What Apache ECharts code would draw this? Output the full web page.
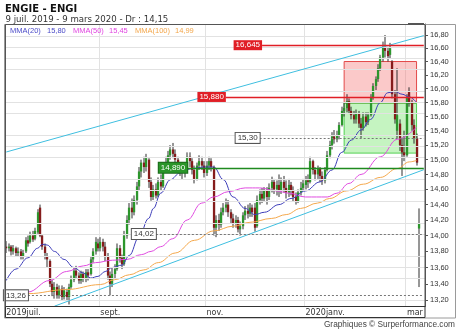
<!DOCTYPE html>
<html><head><meta charset="utf-8">
<script src="https://cdn.jsdelivr.net/npm/echarts@6/dist/echarts.min.js"></script>
<style>html,body{margin:0;padding:0;background:#fff}#c{width:460px;height:331px}</style>
</head><body><div id="c"></div>
<script>
// ---------- data ----------
const holidays = ['2019-12-25','2019-12-26','2020-01-01'];
const xTickMonths = ['2019-07','2019-09','2019-11','2020-01','2020-03'];
const xTickLabels = ['2019juil.','sept.','nov.','2020janv.','mar'];
const yTicks = [13.2,13.4,13.6,13.8,14.0,14.2,14.4,14.6,14.8,15.0,15.2,15.4,15.6,15.8,16.0,16.2,16.4,16.6,16.8];
const yMin = 13.126, yMax = 16.969;

const opens = [13.86,13.84,13.86,13.80,13.84,13.78,13.80,13.74,13.80,13.94,
13.92,14.00,13.96,14.04,14.36,14.00,13.86,13.74,13.68,13.40,
13.30,13.36,13.26,13.34,13.24,13.30,13.24,13.36,13.45,13.56,
13.50,13.44,13.52,13.46,13.54,13.52,13.70,13.80,13.90,13.84,
13.92,13.86,13.74,13.50,13.40,13.52,13.58,13.84,13.72,13.64,
14.00,14.20,14.36,14.30,14.46,14.64,14.84,14.96,14.90,15.00,
14.70,14.50,14.60,14.52,14.70,14.64,14.86,14.96,15.06,15.14,
15.08,15.00,14.92,14.86,14.82,14.90,15.04,14.98,14.86,14.74,
14.92,14.98,14.92,14.82,14.92,14.98,14.90,14.10,14.20,14.14,
14.30,14.36,14.40,14.30,14.22,14.16,14.20,14.08,14.12,14.26,
14.32,14.28,14.36,14.36,14.12,14.46,14.54,14.48,14.58,14.50,
14.62,14.70,14.60,14.66,14.58,14.70,14.62,14.56,14.66,14.58,
14.50,14.44,14.56,14.62,14.66,14.72,14.70,14.98,14.86,14.80,
14.88,14.78,14.72,14.86,15.06,15.20,15.32,15.28,15.34,15.48,
15.68,15.72,15.82,15.68,15.62,15.56,15.64,15.50,15.44,15.60,
15.52,15.62,15.88,16.04,16.14,16.30,16.46,16.62,16.56,16.50,
16.40,15.92,15.40,15.50,15.20,15.10,15.06,15.96,15.80,15.48,
15.30,14.09];
const closes = [13.84,13.86,13.80,13.84,13.78,13.80,13.74,13.78,13.94,13.90,
14.00,13.95,14.06,14.30,14.00,13.86,13.78,13.70,13.40,13.30,
13.36,13.26,13.34,13.24,13.32,13.24,13.36,13.45,13.56,13.50,
13.44,13.52,13.46,13.54,13.50,13.70,13.80,13.92,13.84,13.92,
13.86,13.74,13.50,13.40,13.52,13.58,13.84,13.72,13.64,14.00,
14.20,14.36,14.30,14.46,14.64,14.84,14.96,14.90,15.02,14.70,
14.50,14.60,14.52,14.70,14.64,14.86,14.96,15.06,15.14,15.08,
15.00,14.92,14.86,14.82,14.90,15.04,14.98,14.86,14.74,14.92,
14.98,14.92,14.82,14.92,14.98,14.90,14.10,14.20,14.14,14.30,
14.36,14.40,14.30,14.22,14.16,14.20,14.08,14.12,14.26,14.32,
14.28,14.36,14.30,14.10,14.46,14.54,14.48,14.58,14.50,14.62,
14.70,14.60,14.66,14.58,14.70,14.62,14.56,14.66,14.58,14.50,
14.44,14.56,14.62,14.68,14.72,14.70,14.98,14.86,14.80,14.88,
14.78,14.72,14.86,15.06,15.20,15.32,15.28,15.34,15.48,15.68,
15.72,15.82,15.68,15.62,15.56,15.64,15.50,15.44,15.60,15.52,
15.62,15.88,16.04,16.14,16.30,16.46,16.62,16.56,16.48,16.60,
15.92,15.56,15.62,15.20,15.10,15.06,15.88,15.80,15.48,15.30,
14.96,14.15];
const lows = [13.78,13.80,13.75,13.76,13.73,13.74,13.70,13.70,13.78,13.86,
13.90,13.92,13.94,14.02,13.98,13.82,13.70,13.60,13.36,13.25,
13.22,13.22,13.22,13.20,13.21,13.20,13.15,13.34,13.42,13.46,
13.40,13.40,13.42,13.42,13.44,13.50,13.66,13.76,13.80,13.80,
13.80,13.68,13.45,13.26,13.36,13.46,13.56,13.66,13.58,13.62,
13.96,14.14,14.22,14.26,14.40,14.58,14.76,14.82,14.84,14.62,
14.45,14.46,14.48,14.50,14.58,14.62,14.82,14.90,15.00,15.02,
14.94,14.86,14.78,14.74,14.76,14.86,14.90,14.80,14.68,14.72,
14.86,14.86,14.76,14.78,14.86,14.84,14.00,13.98,14.06,14.10,
14.26,14.30,14.24,14.16,14.10,14.10,14.04,14.00,14.08,14.20,
14.22,14.24,14.24,14.05,14.10,14.40,14.42,14.44,14.40,14.46,
14.56,14.54,14.52,14.50,14.54,14.56,14.48,14.50,14.52,14.44,
14.40,14.42,14.52,14.58,14.60,14.62,14.68,14.80,14.72,14.74,
14.70,14.66,14.68,14.84,15.02,15.14,15.22,15.24,15.28,15.46,
15.60,15.66,15.64,15.56,15.50,15.50,15.44,15.30,15.40,15.46,
15.48,15.60,15.84,15.98,16.10,16.26,16.40,16.46,16.40,16.44,
15.86,15.50,15.30,15.12,14.78,14.98,15.04,15.74,15.40,15.22,
14.92,13.36];
const highs = [13.93,13.90,13.88,13.88,13.86,13.85,13.83,13.82,13.98,14.00,
14.05,14.06,14.10,14.34,14.40,14.02,13.90,13.78,13.70,13.45,
13.42,13.40,13.38,13.38,13.36,13.34,13.40,13.50,13.60,13.62,
13.54,13.56,13.55,13.58,13.58,13.74,13.84,13.98,13.96,13.98,
13.96,13.92,13.78,13.55,13.60,13.64,13.90,13.88,13.76,14.06,
14.26,14.42,14.48,14.52,14.70,14.90,15.00,15.04,15.08,15.02,
14.76,14.66,14.68,14.76,14.80,14.90,15.04,15.12,15.20,15.23,
15.14,15.04,14.96,14.92,14.96,15.10,15.10,15.02,14.92,14.96,
15.06,15.04,14.98,14.98,15.04,15.02,14.92,14.26,14.28,14.36,
14.42,14.48,14.46,14.34,14.28,14.26,14.24,14.18,14.30,14.38,
14.40,14.42,14.40,14.42,14.52,14.60,14.62,14.63,14.63,14.68,
14.77,14.74,14.72,14.80,14.76,14.78,14.72,14.74,14.70,14.64,
14.56,14.60,14.70,14.74,14.78,14.80,15.04,15.00,14.90,14.92,
14.90,14.84,14.90,15.12,15.26,15.38,15.41,15.40,15.52,15.74,
15.80,15.92,15.86,15.74,15.68,15.70,15.68,15.58,15.66,15.66,
15.66,15.92,16.08,16.18,16.36,16.50,16.70,16.80,16.62,16.68,
16.42,15.98,16.30,15.56,15.30,15.40,15.92,16.02,15.84,15.56,
15.36,14.35];

// moving averages: [day index, value]
const ma20Points = [[0,13.44],[4,13.58],[9,13.72],[13,13.84],[15,13.89],[17,13.88],[20,13.80],[24,13.70],[28,13.60],[32,13.53],[35,13.47],[38,13.49],[41,13.55],[44,13.60],[48,13.63],[51,13.75],[55,13.98],[59,14.22],[61,14.35],[64,14.55],[68,14.73],[72,14.82],[77,14.88],[82,14.90],[86,14.90],[90,14.73],[94,14.50],[99,14.35],[103,14.27],[107,14.30],[113,14.40],[118,14.48],[124,14.58],[130,14.70],[135,14.86],[139,15.10],[143,15.27],[147,15.41],[151,15.56],[155,15.80],[158,15.94],[161,15.96],[164,15.92],[167,15.88],[170,15.80]];
const ma50Points = [[0,13.22],[9,13.30],[18,13.44],[25,13.55],[32,13.62],[37,13.66],[44,13.69],[50,13.70],[56,13.76],[60,13.80],[64,13.86],[69,13.96],[75,14.20],[81,14.42],[86,14.50],[92,14.57],[99,14.62],[105,14.62],[112,14.58],[117,14.55],[124,14.50],[133,14.50],[137,14.55],[142,14.68],[147,14.80],[155,15.04],[162,15.28],[170,15.45]];
const ma100Points = [[0,13.25],[9,13.28],[25,13.33],[39,13.39],[45,13.45],[51,13.51],[57,13.57],[63,13.66],[70,13.78],[78,13.94],[86,14.06],[94,14.12],[101,14.17],[110,14.22],[116,14.27],[122,14.35],[129,14.42],[134,14.48],[141,14.58],[148,14.67],[155,14.76],[162,14.88],[167,14.97],[170,14.99]];
const maNames = ['MMA(20)','MMA(50)','MMA(100)'];
const maLast = ['15,80','15,45','14,99'];

// annotations: [start day index, price, label]
const resistLines = [[106,16.645,'16,645'],[91,15.880,'15,880']];
const supportLines = [[75,14.890,'14,890']];
const dottedLines = [[105,15.30,'15,30'],[62,14.02,'14,02'],[9,13.26,'13,26']];
const trendUpper = [[0,15.105],[173,16.791]];
const trendLower = [[20,13.130],[173,14.864]];
const boxRed = [[140,16.40],[170,15.79]];
const boxGreen = [[140,15.79],[170,15.09]];

// ---------- build ----------
const L = Math.log;
function buildDays(){
  const out=[]; let t=Date.UTC(2019,6,9); const end=Date.UTC(2020,2,9);
  while(t<=end){ const d=new Date(t); const wd=d.getUTCDay(); const s=d.toISOString().slice(0,10);
    if(wd!==0 && wd!==6 && holidays.indexOf(s)<0) out.push(s);
    t+=86400000; }
  return out;
}
const days = buildDays();
const categories = days.concat(['2020-03-10','2020-03-11']);
const labelAt = {};
for (let i=0;i<days.length;i++){
  const m = days[i].slice(0,7);
  if (i===0 || days[i-1].slice(0,7)!==m){
    const k = xTickMonths.indexOf(m);
    if (k>=0) labelAt[i] = xTickLabels[k];
  }
}
const candleData = days.map((d,i)=>[i, L(opens[i]), L(closes[i]), L(lows[i]), L(highs[i])]);
const toLn = pts => pts.map(p=>[p[0], L(p[1])]);
const fmt = v => v.toFixed(2).replace('.',',');

function renderCandle(params, api){
  const i=api.value(0), o=api.value(1), c=api.value(2), lo=api.value(3), hi=api.value(4);
  const pO=api.coord([i,o]), pC=api.coord([i,c]), pL=api.coord([i,lo]), pH=api.coord([i,hi]);
  const x=Math.round(pO[0]-1);
  const top=Math.min(pO[1],pC[1]), bot=Math.max(pO[1],pC[1]);
  const up=c>=o;
  return {type:'group', children:[
    {type:'line', shape:{x1:x+1,y1:pH[1],x2:x+1,y2:pL[1]}, style:{stroke:'#2e2e2e', lineWidth:1}},
    {type:'rect', shape:{x:x-0.1, y:top, width:2.3, height:Math.max(bot-top,1.2)}, style:{fill: up?'#2c962c':'#851c1c', stroke:null}}
  ]};
}

const hLine = (a, color, width, type, lab) => [
  {coord:[a[0], L(a[1])], lineStyle:{color:color, width:width, type:type},
   label:{show:true, position:'start', distance:0, formatter:a[2], fontSize:8, fontFamily:'Liberation Sans', lineHeight:9,
          color: lab.color, backgroundColor: lab.bg, borderColor: lab.border, borderWidth: lab.border?1:0, padding:[1,2,0,2]}},
  {coord:[173, L(a[1])]}
];

const markLineData = []
  .concat([[{coord:[trendUpper[0][0],L(trendUpper[0][1])], lineStyle:{color:'#3fbfe0',width:1,type:'solid'}},{coord:[trendUpper[1][0],L(trendUpper[1][1])]}]])
  .concat([[{coord:[trendLower[0][0],L(trendLower[0][1])], lineStyle:{color:'#3fbfe0',width:1,type:'solid'}},{coord:[trendLower[1][0],L(trendLower[1][1])]}]]);

const annotData = []
  .concat(resistLines.map(a=>hLine(a,'#e01f26',1.3,'solid',{color:'#fff',bg:'#e01f26'})))
  .concat(supportLines.map(a=>hLine(a,'#1f8a1f',1.3,'solid',{color:'#fff',bg:'#2a952a',border:'#1a6a1a'})))
  .concat(dottedLines.map(a=>hLine(a,'#777',1,[2,2],{color:'#333',bg:'#fff',border:'#555'})));

const chart = echarts.init(document.getElementById('c'));
chart.setOption({
  animation:false,
  grid:{left:5,right:35,top:24,bottom:24.5},
  xAxis:{type:'category', data:categories, boundaryGap:true,
    axisLine:{show:false}, axisTick:{show:false},
    axisLabel:{interval:(i)=>labelAt.hasOwnProperty(i), formatter:(v,i)=>labelAt[i]||'', align:'left',
      margin:2.5, fontSize:8, fontFamily:'DejaVu Sans', color:'#333'},
    splitLine:{show:true, interval:(i)=>i>0 && labelAt.hasOwnProperty(i), lineStyle:{color:'#e2e2e2',width:1}}},
  yAxis:{type:'value', position:'right', min:L(yMin), max:L(yMax), scale:true,
    axisLine:{show:true, lineStyle:{color:'#555'}},
    axisTick:{show:true, length:3, customValues:yTicks.map(L), lineStyle:{color:'#555'}},
    axisLabel:{customValues:yTicks.map(L), formatter:v=>fmt(Math.exp(v)), fontSize:7.5, fontFamily:'Liberation Sans', color:'#333', margin:5},
    splitLine:{show:false}},
  series:[
    {type:'line', name:'grid', data:[], silent:true, z:1,
      markLine:{silent:true, symbol:['none','none'], label:{show:false},
        lineStyle:{color:'#e2e2e2', width:1, type:'solid'},
        data: yTicks.map(t=>({yAxis:L(t)}))},
      markArea:{silent:true, data:[
        [{coord:[boxRed[0][0],L(boxRed[0][1])], itemStyle:{color:'rgba(246,120,120,0.40)', borderColor:'#e34a4a', borderWidth:1}},{coord:[boxRed[1][0],L(boxRed[1][1])]}],
        [{coord:[boxGreen[0][0],L(boxGreen[0][1])], itemStyle:{color:'rgba(110,228,100,0.40)', borderColor:'#52d052', borderWidth:1}},{coord:[boxGreen[1][0],L(boxGreen[1][1])]}]
      ]}},
    {type:'line', name:'trend', data:[], silent:true, z:2,
      markLine:{silent:true, symbol:['none','none'], label:{show:false}, data:markLineData}},
    {type:'custom', name:'ENGI', data:candleData, renderItem:renderCandle, encode:{x:0,y:[1,2,3,4]}, z:3},
    {type:'line', name:maNames[2], data:toLn(ma100Points), smooth:0.4, smoothMonotone:'x', showSymbol:false, lineStyle:{color:'#f4a84c',width:1}, z:4},
    {type:'line', name:maNames[1], data:toLn(ma50Points), smooth:0.4, smoothMonotone:'x', showSymbol:false, lineStyle:{color:'#e04ce0',width:1}, z:4},
    {type:'line', name:maNames[0], data:toLn(ma20Points), smooth:0.4, smoothMonotone:'x', showSymbol:false, lineStyle:{color:'#3c3cb8',width:1}, z:4},
    {type:'line', name:'annot', data:[], silent:true, z:5,
      markLine:{silent:true, symbol:['none','none'], data:annotData}}
  ],
  graphic:[
    {type:'rect', z:100, shape:{x:4.5,y:24.5,width:451,height:293.5}, style:{fill:null, stroke:'#9a9a9a', lineWidth:1}},
    {type:'rect', z:100, shape:{x:5.5,y:24.5,width:419.5,height:282}, style:{fill:null, stroke:'#555', lineWidth:1}},
    {type:'rect', z:100, shape:{x:5.5,y:306.5,width:419.5,height:11}, style:{fill:null, stroke:'#333', lineWidth:1}},
    {type:'rect', z:100, shape:{x:408,y:23,width:16,height:2}, style:{fill:'#555'}},
    {type:'text', z:100, x:5, y:9, style:{text:'ENGIE - ENGI', font:'bold 10px "DejaVu Sans"', fill:'#111', textAlign:'left', textVerticalAlign:'middle', align:'left', verticalAlign:'middle'}},
    {type:'text', z:100, x:5.5, y:19.8, style:{text:'9 juil. 2019 - 9 mars 2020 - Dr : 14,15', font:'8.6px "DejaVu Sans"', fill:'#333', textAlign:'left', textVerticalAlign:'middle', align:'left', verticalAlign:'middle'}},
    {type:'text', z:100, x:10, y:30.7, style:{text:maNames[0], font:'7.5px "Liberation Sans"', fill:'#4a4ac8', textVerticalAlign:'middle', verticalAlign:'middle'}},
    {type:'text', z:100, x:47, y:30.7, style:{text:maLast[0], font:'7.5px "Liberation Sans"', fill:'#4a4ac8', textVerticalAlign:'middle', verticalAlign:'middle'}},
    {type:'text', z:100, x:73, y:30.7, style:{text:maNames[1], font:'7.5px "Liberation Sans"', fill:'#e044e0', textVerticalAlign:'middle', verticalAlign:'middle'}},
    {type:'text', z:100, x:109, y:30.7, style:{text:maLast[1], font:'7.5px "Liberation Sans"', fill:'#e044e0', textVerticalAlign:'middle', verticalAlign:'middle'}},
    {type:'text', z:100, x:135, y:30.7, style:{text:maNames[2], font:'7.5px "Liberation Sans"', fill:'#f3a64a', textVerticalAlign:'middle', verticalAlign:'middle'}},
    {type:'text', z:100, x:175, y:30.7, style:{text:maLast[2], font:'7.5px "Liberation Sans"', fill:'#f3a64a', textVerticalAlign:'middle', verticalAlign:'middle'}},
    {type:'text', z:100, x:455, y:324.5, style:{text:'Graphiques © Surperformance.com', font:'8.3px "Liberation Sans", Arial', fill:'#444', textAlign:'right', align:'right', textVerticalAlign:'middle', verticalAlign:'middle'}}
  ]
});
</script>
</body></html>
